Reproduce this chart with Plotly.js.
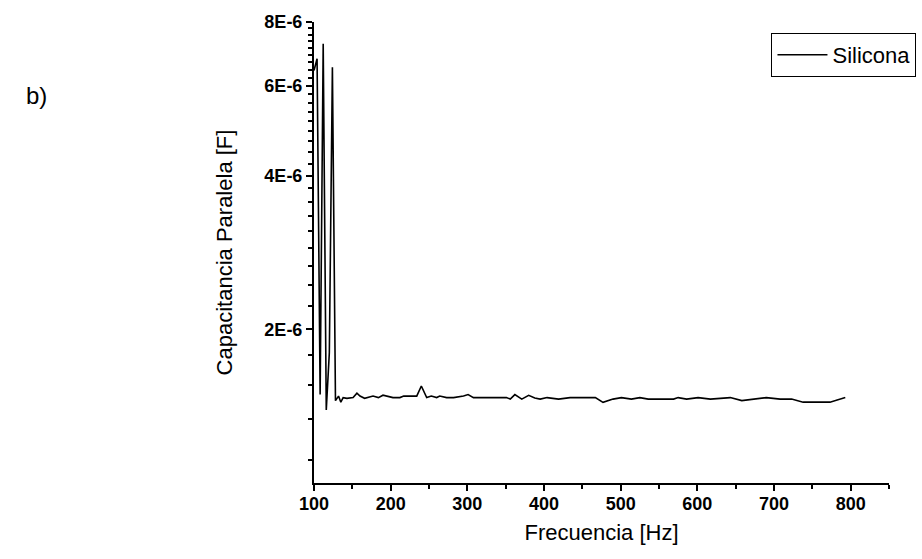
<!DOCTYPE html>
<html>
<head>
<meta charset="utf-8">
<script src="https://cdn.plot.ly/plotly-3.0.1.min.js"></script>
<style>html,body{margin:0;padding:0;background:#fff;}#chart{width:922px;height:559px;}</style>
</head>
<body>
<div id="chart"></div>
<script>
// Frequency [Hz]
var frecuencia = [100,104,108,112,116,120,124,128,132,135,138,143,151,156,160,166,177,184,190,197,203,212,217,234,240,247,253,260,264,273,282,295,301,308,351,356,362,371,380,388,395,404,419,434,467,477,490,501,514,525,536,569,575,586,601,617,643,658,673,690,708,723,738,773,793];
// Parallel capacitance [uF] (multiplied by 1e-6 below)
var capacitancia_uF = [6.43,6.78,1.49,7.25,1.39,1.80,6.52,1.45,1.48,1.44,1.47,1.465,1.47,1.50,1.48,1.465,1.48,1.47,1.486,1.475,1.47,1.47,1.48,1.48,1.549,1.47,1.48,1.47,1.48,1.47,1.47,1.48,1.49,1.47,1.47,1.46,1.49,1.46,1.485,1.467,1.46,1.47,1.46,1.47,1.47,1.439,1.46,1.47,1.46,1.47,1.46,1.46,1.47,1.46,1.47,1.46,1.47,1.45,1.46,1.47,1.46,1.46,1.44,1.44,1.47];
var xTickVals = [100,200,300,400,500,600,700,800];
var yTickVals = [2e-6,4e-6,6e-6,8e-6];
var yTickText = ['2E-6','4E-6','6E-6','8E-6'];
var serieNombre = 'Silicona';
var panelLabel = 'b)';

var cap = capacitancia_uF.map(function(v){return v*1e-6;});

// minor ticks: 8 evenly spaced (in value) between majors, continuing below 2E-6
var yMinor = [];
var step = 2e-6/9;
for (var k = -4; k <= 27; k++) {
  var v = 2e-6 + k*step;
  if (v < 1e-6 || v > 8e-6) continue;
  if (k % 9 === 0) continue;
  yMinor.push(v);
}

var FONT = 'Liberation Sans, Arial, Helvetica, sans-serif';

var trace = {
  x: frecuencia,
  y: cap,
  type: 'scatter',
  mode: 'lines',
  name: serieNombre,
  line: {color: '#000', width: 1.6}
};

var layout = {
  width: 922, height: 559,
  paper_bgcolor: '#fff', plot_bgcolor: '#fff',
  margin: {l: 314, r: 33, t: 22, b: 76, pad: 0, autoexpand: false},
  font: {family: FONT, color: '#000'},
  showlegend: true,
  legend: {
    xref: 'container', yref: 'container',
    x: 0.994, xanchor: 'right', y: 0.941, yanchor: 'top',
    bordercolor: '#000', borderwidth: 1, bgcolor: '#fff',
    itemwidth: 50,
    font: {family: FONT, size: 22, color: '#000'},
    tracegroupgap: 0
  },
  xaxis: {
    range: [100, 850],
    tickmode: 'array', tickvals: xTickVals,
    showline: true, linecolor: '#000', linewidth: 2,
    ticks: 'outside', ticklen: 6, tickwidth: 2, tickcolor: '#000',
    ticklabelstandoff: -3,
    minor: {tickmode: 'linear', tick0: 150, dtick: 100, ticks: 'outside', ticklen: 4, tickwidth: 2, tickcolor: '#000', showgrid: false},
    showgrid: false, zeroline: false,
    tickfont: {family: FONT, size: 18, weight: 'bold', color: '#000'},
    title: {text: 'Frecuencia [Hz]', font: {family: FONT, size: 22, color: '#000'}, standoff: 12}
  },
  yaxis: {
    type: 'log',
    range: [-6, Math.log10(8e-6)],
    tickmode: 'array', tickvals: yTickVals, ticktext: yTickText,
    showline: true, linecolor: '#000', linewidth: 2,
    ticks: 'outside', ticklen: 6, tickwidth: 2, tickcolor: '#000',
    minor: {tickmode: 'array', tickvals: yMinor, ticks: 'outside', ticklen: 4, tickwidth: 2, tickcolor: '#000', showgrid: false},
    showgrid: false, zeroline: false,
    tickfont: {family: FONT, size: 18, weight: 'bold', color: '#000'},
    title: {text: 'Capacitancia Paralela [F]', font: {family: FONT, size: 22, color: '#000'}, standoff: 26}
  },
  annotations: [{
    xref: 'paper', yref: 'paper',
    x: -0.505, y: 0.84, xanchor: 'left', yanchor: 'middle',
    text: panelLabel, showarrow: false,
    font: {family: FONT, size: 24, color: '#000'}
  }]
};

Plotly.newPlot('chart', [trace], layout, {displayModeBar: false, staticPlot: true});
</script>
</body>
</html>
